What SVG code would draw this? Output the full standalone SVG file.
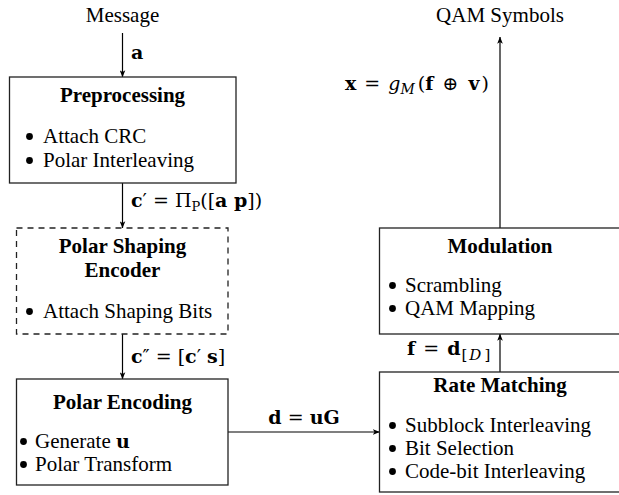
<svg xmlns="http://www.w3.org/2000/svg" width="619" height="495" viewBox="0 0 619 495">
  <style>
    text { font-family: "Liberation Serif", "Times New Roman", serif; font-size: 21px; fill: #000; }
    .title { font-weight: bold; text-anchor: middle; }
    .math { font-family: "DejaVu Serif", "Liberation Serif", serif; font-size: 19px; }
    .b { font-weight: bold; }
    .i { font-style: italic; }
    .bul { fill: #000; }
    .box { fill: #fff; stroke: #222; stroke-width: 1.3; }
    .dash { stroke-dasharray: 6 5; }
    .wire { fill: none; stroke: #000; stroke-width: 1.2; marker-end: url(#tip); }
  </style>
  <defs>
    <marker id="tip" viewBox="0 0 10 8" refX="9.5" refY="4" markerWidth="7" markerHeight="6" markerUnits="userSpaceOnUse" orient="auto">
      <path d="M0,0 L10,4 L0,8 L2.5,4 Z" fill="#000"/>
    </marker>
  </defs>

  <!-- terminals -->
  <text x="122.5" y="22" text-anchor="middle">Message</text>
  <text x="500" y="22" text-anchor="middle">QAM Symbols</text>

  <!-- connectors -->
  <g id="connectors">
    <path class="wire" d="M122.5,33 V77"/>
    <path class="wire" d="M122.5,183 V228"/>
    <path class="wire" d="M122.5,334 V379"/>
    <path class="wire" d="M228,432 H379.5"/>
    <path class="wire" d="M500,372 V334"/>
    <path class="wire" d="M500,228 V37"/>
    <text class="math" x="131" y="59"><tspan class="b">a</tspan></text>
    <text class="math" x="131" y="207"><tspan class="b">c</tspan>′ = Π<tspan font-size="13" dy="4">P</tspan><tspan dy="-4">([</tspan><tspan class="b">a p</tspan>])</text>
    <text class="math" x="131" y="363"><tspan class="b">c</tspan>″ = [<tspan class="b">c</tspan>′ <tspan class="b">s</tspan>]</text>
    <text class="math" x="304" y="424" text-anchor="middle"><tspan class="b">d</tspan> = <tspan class="b">uG</tspan></text>
    <text class="math" x="407" y="355"><tspan class="b">f</tspan><tspan dx="2"> = </tspan><tspan class="b" dx="2">d</tspan><tspan font-size="15" dy="5" dx="1">[<tspan class="i" dx="2">D</tspan><tspan dx="3">]</tspan></tspan></text>
    <text class="math" x="345" y="90"><tspan class="b">x</tspan><tspan dx="2"> = </tspan><tspan class="i" dx="2">g</tspan><tspan class="i" font-size="14" dy="4">M</tspan><tspan dy="-4" dx="3">(</tspan><tspan class="b">f</tspan><tspan dx="3"> ⊕ </tspan><tspan class="b" dx="4">v</tspan><tspan dx="2">)</tspan></text>
  </g>

  <!-- Preprocessing -->
  <g id="preprocessing">
    <rect class="box" x="9.5" y="77" width="226.5" height="106"/>
    <text class="title" x="122.5" y="102">Preprocessing</text>
    <circle class="bul" cx="29.5" cy="136.5" r="3.4"/><text x="43" y="143">Attach CRC</text>
    <circle class="bul" cx="29.5" cy="160.5" r="3.4"/><text x="43" y="167">Polar Interleaving</text>
  </g>

  <!-- Polar Shaping Encoder -->
  <g id="shaping-encoder">
    <rect class="box dash" x="16.5" y="228" width="211.5" height="106"/>
    <text class="title" x="122.5" y="253">Polar Shaping</text>
    <text class="title" x="122.5" y="277">Encoder</text>
    <circle class="bul" cx="29.5" cy="311.5" r="3.4"/><text x="43" y="318">Attach Shaping Bits</text>
  </g>

  <!-- Polar Encoding -->
  <g id="polar-encoding">
    <rect class="box" x="16.5" y="379" width="211.5" height="106"/>
    <text class="title" x="122.5" y="409">Polar Encoding</text>
    <circle class="bul" cx="23.5" cy="441.5" r="3.4"/><text x="35" y="448">Generate <tspan class="math b">u</tspan></text>
    <circle class="bul" cx="23.5" cy="464.5" r="3.4"/><text x="35" y="471">Polar Transform</text>
  </g>

  <!-- Rate Matching -->
  <g id="rate-matching">
    <rect class="box" x="379.5" y="372" width="250" height="120"/>
    <text class="title" x="500" y="392">Rate Matching</text>
    <circle class="bul" cx="392.5" cy="425.5" r="3.4"/><text x="405" y="432">Subblock Interleaving</text>
    <circle class="bul" cx="392.5" cy="448.5" r="3.4"/><text x="405" y="455">Bit Selection</text>
    <circle class="bul" cx="392.5" cy="471.5" r="3.4"/><text x="405" y="478">Code-bit Interleaving</text>
  </g>

  <!-- Modulation -->
  <g id="modulation">
    <rect class="box" x="379.5" y="228" width="250" height="106"/>
    <text class="title" x="500" y="253">Modulation</text>
    <circle class="bul" cx="392.5" cy="285.5" r="3.4"/><text x="405" y="292">Scrambling</text>
    <circle class="bul" cx="392.5" cy="308.5" r="3.4"/><text x="405" y="315">QAM Mapping</text>
  </g>
</svg>
